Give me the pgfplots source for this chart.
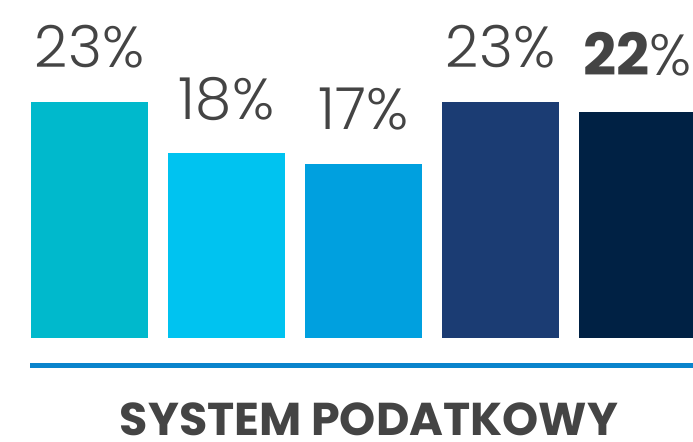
\documentclass[border=0pt]{standalone}
\usepackage{pgfplots}
\pgfplotsset{compat=1.18}
\usepackage{fontspec}
\setmainfont{Poppins}
\newfontfamily\poplight{Poppins Light}
\definecolor{c1}{HTML}{00B9CC}
\definecolor{c2}{HTML}{00C3F0}
\definecolor{c3}{HTML}{00A0DF}
\definecolor{c4}{HTML}{1B3C73}
\definecolor{c5}{HTML}{002144}
\definecolor{lineblue}{HTML}{0A84CC}
\definecolor{txt}{HTML}{444444}
\begin{document}
\begin{tikzpicture}
\begin{axis}[
  width=693pt, height=442pt, scale only axis, axis lines=none,
  xmin=-0.6533, xmax=4.4051, ymin=-10.136, ymax=32.94,
  ybar, bar width=117pt, bar shift=0pt,
  clip mode=individual,
  /pgf/number format/assume math mode=true,
  nodes near coords={\poplight\pgfmathprintnumber{\pgfplotspointmeta}\%},
  every node near coord/.append style={anchor=base, yshift=34pt, inner sep=0pt,
    font=\fontsize{58}{60}\selectfont, text=txt},
]
\addplot[fill=c1, draw=none] coordinates {(0,23)};
\addplot[fill=c2, draw=none] coordinates {(1,18)};
\addplot[fill=c3, draw=none] coordinates {(2,17)};
\addplot[fill=c4, draw=none] coordinates {(3,23)};
\addplot[fill=c5, draw=none, nodes near coords={\textbf{\pgfmathprintnumber{\pgfplotspointmeta}}{\poplight\%}}, every node near coord/.append style={yshift=3pt}] coordinates {(4,22)};
\draw[line width=5pt, lineblue] (axis cs:-0.434,-2.68) -- (axis cs:4.4051,-2.68);
\node[anchor=base, inner sep=0pt, text depth=0pt, text=txt, font=\fontsize{46}{48}\selectfont\bfseries] at (rel axis cs:0.5325,0.014) {SYSTEM PODATKOWY};
\end{axis}
\pgfresetboundingbox
\useasboundingbox (current axis.south west) rectangle (current axis.north east);
\end{tikzpicture}
\end{document}
